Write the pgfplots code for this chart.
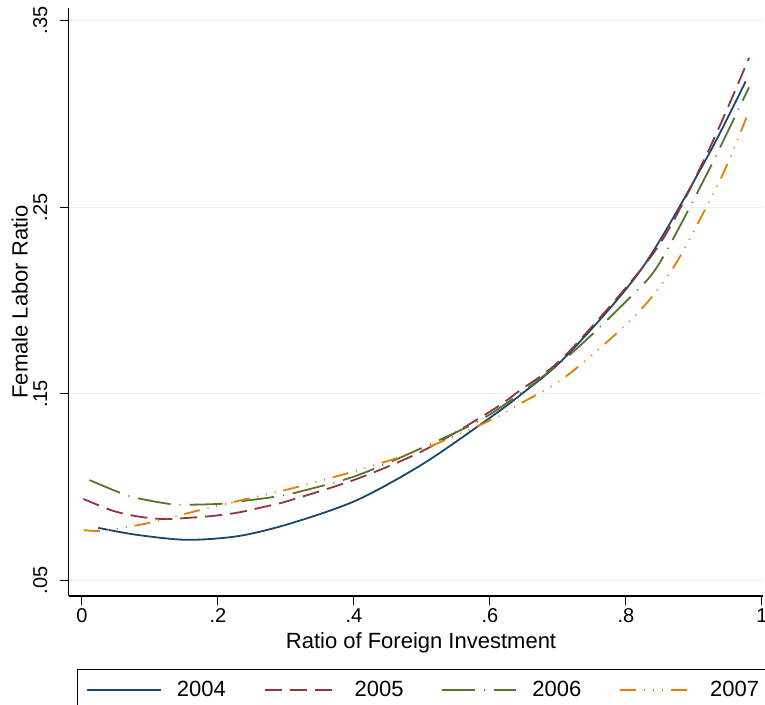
\documentclass[border=0pt]{standalone}
\usepackage{fontspec}
\setmainfont{Liberation Sans}
\usepackage{pgfplots}
\pgfplotsset{compat=1.18}

\definecolor{c2004}{RGB}{26,71,111}
\definecolor{c2005}{RGB}{144,53,59}
\definecolor{c2006}{RGB}{85,117,47}
\definecolor{c2007}{RGB}{227,126,0}
\definecolor{gridc}{RGB}{234,242,243}

\begin{document}
\begin{tikzpicture}
\begin{axis}[
    at={(68.6bp,109bp)}, anchor=south west,
    scale only axis, width=694.4bp, height=588bp,
    xmin=-0.0197, xmax=1.0015, ymin=0.0417, ymax=0.3567,
    axis x line*=bottom, axis y line*=left,
    axis line style={line width=1.2bp, -},
    xtick={0,0.2,0.4,0.6,0.8,1}, xticklabels={0,.2,.4,.6,.8,1},
    ytick={0.05,0.15,0.25,0.35}, yticklabels={.05,.15,.25,.35},
    tick align=outside, major tick length=9bp,
    tick style={line width=1bp, black},
    ymajorgrids, grid style={line width=1.2bp, gridc},
    ticklabel style={font=\fontsize{20bp}{24bp}\selectfont},
    xticklabel style={anchor=base, inner sep=0pt, yshift=-17bp},
    yticklabel style={xshift=-12bp, rotate=90, anchor=south, inner sep=0pt},
    label style={font=\fontsize{22bp}{26bp}\selectfont, inner sep=0pt},
    xlabel={Ratio of Foreign Investment},
    ylabel={Female Labor Ratio},
    xlabel style={at={(axis description cs:0.5075,-0.0889)}, anchor=base},
    ylabel style={at={(axis description cs:-0.0585,0.5)}, anchor=south, rotate=0},
    legend style={at={(0.0117,-0.1241)}, anchor=north west, legend columns=4,
        draw=black, line width=0.8bp, font=\fontsize{22bp}{26bp}\selectfont,
        inner xsep=9bp, inner ysep=10bp,
        /tikz/every odd column/.style={column sep=13bp},
        /tikz/every even column/.style={column sep=36bp}},
    legend cell align=left,
    legend image code/.code={\draw[#1] (0bp,0bp) -- (74bp,0bp);},
]
\addplot[c2004, line width=1.8bp, smooth] coordinates {
(0.024,0.0782) (0.08,0.0745) (0.154,0.0718) (0.23,0.0738) (0.306,0.0805)
(0.404,0.0930) (0.502,0.1126) (0.60,0.1372) (0.644,0.1492) (0.713,0.1705)
(0.823,0.2170) (0.919,0.2765) (0.976,0.3174)
};
\addlegendentry{2004}
\addplot[c2005, line width=1.8bp, smooth, dash pattern=on 17bp off 8bp] coordinates {
(0.002,0.0937) (0.046,0.0873) (0.084,0.0842) (0.121,0.0829) (0.158,0.0836)
(0.195,0.0847) (0.231,0.0865) (0.268,0.0895) (0.304,0.0927) (0.404,0.1044)
(0.502,0.1196) (0.60,0.1405) (0.644,0.1518) (0.713,0.1714) (0.843,0.2267)
(0.919,0.2785) (0.981,0.3300)
};
\addlegendentry{2005}
\addplot[c2006, line width=1.8bp, smooth, dash pattern=on 33bp off 9bp on 1bp off 9bp] coordinates {
(0.011,0.1038) (0.056,0.0970) (0.083,0.0940) (0.129,0.0910) (0.156,0.0906)
(0.205,0.0911) (0.232,0.0924) (0.281,0.0947) (0.32,0.0976) (0.404,0.1062)
(0.502,0.1214) (0.60,0.1390) (0.713,0.1696) (0.811,0.2035) (0.85,0.2205)
(0.919,0.2678) (0.981,0.3142)
};
\addlegendentry{2006}
\addplot[c2007, line width=1.8bp, smooth, dash pattern=on 16bp off 8bp on 1bp off 8bp on 1bp off 8bp on 1bp off 8bp] coordinates {
(0.003,0.0770) (0.026,0.0765) (0.064,0.0785) (0.10,0.0810) (0.171,0.0875)
(0.242,0.0937) (0.306,0.0991) (0.404,0.1089) (0.502,0.1205) (0.60,0.1357)
(0.644,0.1446) (0.713,0.1597) (0.811,0.1910) (0.87,0.2178) (0.933,0.2606)
(0.959,0.2815) (0.977,0.2980)
};
\addlegendentry{2007}
\end{axis}
\pgfresetboundingbox
\useasboundingbox (0,0) rectangle (765bp,705bp);
\end{tikzpicture}
\end{document}
